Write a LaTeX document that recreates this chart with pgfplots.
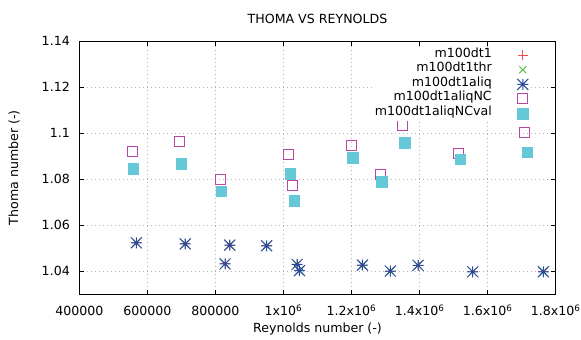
\documentclass[border=0pt]{standalone}
\usepackage{fontspec}
\setmainfont{DejaVu Sans}
\usepackage{pgfplots}
\pgfplotsset{compat=1.18}
\definecolor{gpred}{RGB}{238,75,75}
\definecolor{gpgreen}{RGB}{85,190,70}
\definecolor{gpblue}{RGB}{45,75,155}
\definecolor{gpmag}{RGB}{185,70,160}
\definecolor{gpcyan}{RGB}{100,200,215}
\pgfdeclareplotmark{gpstar}{%
  \pgfpathmoveto{\pgfqpoint{-\pgfplotmarksize}{0pt}}\pgfpathlineto{\pgfqpoint{\pgfplotmarksize}{0pt}}%
  \pgfpathmoveto{\pgfqpoint{0pt}{-\pgfplotmarksize}}\pgfpathlineto{\pgfqpoint{0pt}{\pgfplotmarksize}}%
  \pgfpathmoveto{\pgfqpoint{-\pgfplotmarksize}{-\pgfplotmarksize}}\pgfpathlineto{\pgfqpoint{\pgfplotmarksize}{\pgfplotmarksize}}%
  \pgfpathmoveto{\pgfqpoint{-\pgfplotmarksize}{\pgfplotmarksize}}\pgfpathlineto{\pgfqpoint{\pgfplotmarksize}{-\pgfplotmarksize}}%
  \pgfusepathqstroke}
\pgfplotstableread{
x y
567500 1.0524
711300 1.0519
828300 1.0432
842200 1.0514
950600 1.0511
1040100 1.0430
1047000 1.0403
1232100 1.0427
1314000 1.0401
1395500 1.0426
1556200 1.0398
1763800 1.0398
}\aliq
\pgfplotstableread{
x y
556600 1.0920
695400 1.0966
814700 1.0797
1015600 1.0907
1027400 1.0771
1200500 1.0949
1286200 1.0819
1351200 1.1035
1515700 1.0910
1708600 1.1005
}\nc
\pgfplotstableread{
x y
557700 1.0845
699500 1.0868
816500 1.0749
1019500 1.0825
1031300 1.0707
1203500 1.0893
1288300 1.0790
1356200 1.0959
1518700 1.0888
1715700 1.0918
}\ncval
\begin{document}
\fontsize{12.6bp}{15bp}\selectfont
\begin{tikzpicture}
\path[use as bounding box] (0,0) rectangle (581bp,340bp);
\begin{axis}[
  at={(79.3bp,45.7bp)}, anchor=south west,
  scale only axis, width=476.4bp, height=253bp,
  xmin=400000, xmax=1800000, ymin=1.03, ymax=1.14,
  xtick={400000,600000,800000,1000000,1200000,1400000,1600000,1800000},
  xticklabels={400000,600000,800000,1x10\textsuperscript{6},1.2x10\textsuperscript{6},1.4x10\textsuperscript{6},1.6x10\textsuperscript{6},1.8x10\textsuperscript{6}},
  ytick={1.04,1.06,1.08,1.1,1.12,1.14},
  yticklabels={1.04,1.06,1.08,1.1,1.12,1.14},
  /pgf/number format/assume math mode=true,
  scaled ticks=false,
  tick align=inside, major tick length=4.5bp,
  every tick/.style={black, line width=0.8bp},
  grid=major,
  major grid style={draw=gray!60, line width=0.7bp, dash pattern=on 0.7bp off 3.3bp},
  axis line style={line width=0.9bp},
  xticklabel style={anchor=base, yshift=-21.2bp, inner sep=0pt},
  yticklabel style={anchor=east, xshift=-9.3bp, inner sep=0pt},
  title={THOMA VS REYNOLDS},
  every axis title/.style={at={(axis description cs:0.5,1.0684)}, anchor=base, inner sep=0pt},
  xlabel={Reynolds number (-)},
  every axis x label/.style={at={(axis description cs:0.5,-0.152)}, anchor=base, inner sep=0pt},
  ylabel={Thoma number (-)},
  every axis y label/.style={at={(axis description cs:-0.1285,0.5)}, rotate=90, anchor=base, inner sep=0pt},
  legend plot pos=right,
  legend cell align=right,
  legend style={draw=none, fill=white, inner sep=0pt, at={(rel axis cs:0.9429,0.9747)}, anchor=north east,
    row sep=0pt, column sep=25.5bp,
    nodes={inner sep=0pt, text height=9.3bp, text depth=5.3bp}},
]
\addplot[only marks, color=gpred, mark=+, mark size=5bp, line width=1bp] table[x=x,y=y] {\aliq};
\addlegendentry{m100dt1}
\addplot[only marks, color=gpgreen, mark=x, mark size=5bp, line width=1bp] table[x=x,y=y] {\aliq};
\addlegendentry{m100dt1thr}
\addplot[only marks, color=gpblue, mark=gpstar, mark size=5.5bp, line width=1bp] table[x=x,y=y] {\aliq};
\addlegendentry{m100dt1aliq}
\addplot[only marks, color=gpmag, mark=square, mark size=5bp, line width=1bp, mark options={draw=gpmag, fill=none}] table[x=x,y=y] {\nc};
\addlegendentry{m100dt1aliqNC}
\addplot[only marks, mark=square*, mark size=5.3bp, line width=0.3bp, mark options={draw=gpcyan, fill=gpcyan}] table[x=x,y=y] {\ncval};
\addlegendentry{m100dt1aliqNCval}
\end{axis}
\end{tikzpicture}
\end{document}
